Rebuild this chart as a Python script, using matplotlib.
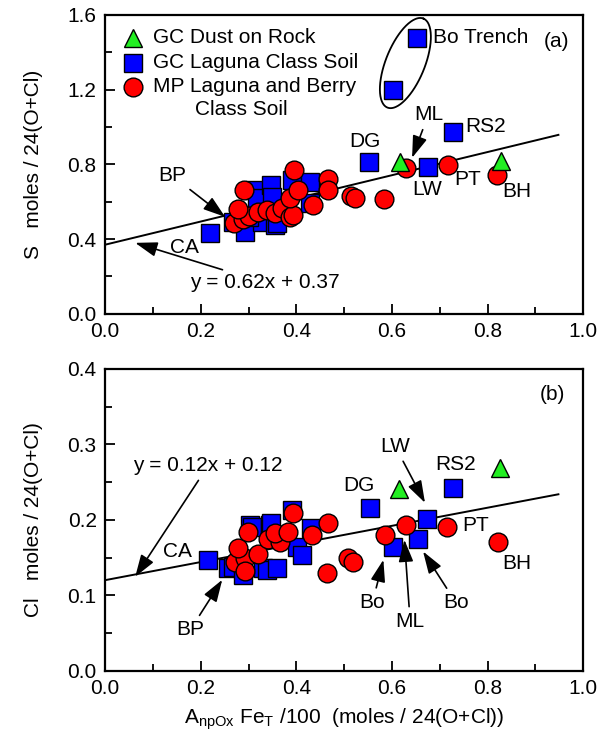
import numpy as np
import matplotlib
matplotlib.use("Agg")
import matplotlib.pyplot as plt
from matplotlib.ticker import MultipleLocator

plt.rcParams['font.family'] = ['Liberation Sans', 'DejaVu Sans']
plt.rcParams['mathtext.fontset'] = 'custom'
plt.rcParams['mathtext.rm'] = 'Liberation Sans'
plt.rcParams['mathtext.it'] = 'Liberation Sans'

# ---- (a) sulfur ----
s_dust_x = [0.617, 0.828]
s_dust_y = [0.813, 0.819]

s_lag_x = [0.220, 0.268, 0.293, 0.314, 0.318, 0.328, 0.347, 0.349, 0.356, 0.391,
           0.429, 0.429, 0.360, 0.300, 0.552, 0.676, 0.728, 0.603, 0.653]
s_lag_y = [0.433, 0.492, 0.439, 0.664, 0.621, 0.492, 0.690, 0.626, 0.476, 0.717,
           0.706, 0.594, 0.487, 0.520, 0.813, 0.787, 0.974, 1.199, 1.477]

s_mp_x = [0.270, 0.289, 0.301, 0.320, 0.339, 0.356, 0.370, 0.387, 0.393, 0.278,
          0.291, 0.387, 0.404, 0.435, 0.395, 0.467, 0.467, 0.515, 0.523, 0.584,
          0.630, 0.718, 0.820]
s_mp_y = [0.487, 0.508, 0.524, 0.546, 0.557, 0.540, 0.567, 0.519, 0.530, 0.562,
          0.664, 0.621, 0.664, 0.583, 0.771, 0.722, 0.664, 0.631, 0.621, 0.615,
          0.781, 0.797, 0.744]

s_fit = (0.62, 0.37)

# ---- (b) chlorine ----
cl_dust_x = [0.615, 0.826]
cl_dust_y = [0.241, 0.268]

cl_lag_x = [0.215, 0.257, 0.268, 0.289, 0.303, 0.308, 0.331, 0.339, 0.345, 0.347,
            0.360, 0.391, 0.402, 0.412, 0.431, 0.554, 0.602, 0.655, 0.673, 0.728]
cl_lag_y = [0.147, 0.136, 0.138, 0.127, 0.193, 0.191, 0.136, 0.134, 0.193, 0.196,
            0.136, 0.213, 0.164, 0.154, 0.189, 0.216, 0.164, 0.175, 0.201, 0.242]

cl_mp_x = [0.272, 0.293, 0.320, 0.278, 0.341, 0.366, 0.299, 0.356, 0.383, 0.433,
           0.393, 0.467, 0.293, 0.464, 0.508, 0.519, 0.586, 0.630, 0.715, 0.822]
cl_mp_y = [0.144, 0.150, 0.155, 0.163, 0.174, 0.170, 0.184, 0.183, 0.184, 0.180,
           0.209, 0.196, 0.132, 0.130, 0.150, 0.144, 0.180, 0.193, 0.191, 0.171]

cl_fit = (0.12, 0.12)

fit_x = np.array([0.0, 0.948])

GREEN = '#22ee22'
BLUE = '#0000ff'
RED = '#ff0000'
FS = 15
MS = 13.5

fig = plt.figure(figsize=(5.97, 7.42), dpi=100)
ax1 = fig.add_axes([0.176, 0.577, 0.801, 0.403])
ax2 = fig.add_axes([0.176, 0.096, 0.801, 0.407])


def style(ax, ymax, ymajor, yminor):
    ax.set_xlim(0, 1.0)
    ax.set_ylim(0, ymax)
    ax.xaxis.set_major_locator(MultipleLocator(0.2))
    ax.xaxis.set_minor_locator(MultipleLocator(0.1))
    ax.yaxis.set_major_locator(MultipleLocator(ymajor))
    ax.yaxis.set_minor_locator(MultipleLocator(yminor))
    ax.tick_params(which='both', direction='in', width=1.3, labelsize=FS,
                   top=False, right=False)
    ax.tick_params(which='major', length=7, pad=6)
    ax.tick_params(which='minor', length=5)
    for sp in ax.spines.values():
        sp.set_linewidth(1.6)
    ax.xaxis.set_major_formatter(plt.FuncFormatter(lambda v, p: f"{v:.1f}"))
    ax.yaxis.set_major_formatter(plt.FuncFormatter(lambda v, p: f"{v:.1f}"))


def draw(ax, fit, lag_x, lag_y, mp_x, mp_y, dust_x, dust_y):
    m, b = fit
    ax.plot(fit_x, m * fit_x + b, color='black', lw=1.4, zorder=1)
    ax.plot(lag_x, lag_y, 's', ms=MS, mfc=BLUE, mec='black', mew=1.0, ls='none', zorder=2)
    ax.plot(mp_x, mp_y, 'o', ms=MS, mfc=RED, mec='black', mew=1.0, ls='none', zorder=3)
    ax.plot(dust_x, dust_y, '^', ms=MS, mfc=GREEN, mec='black', mew=1.0, ls='none', zorder=4)


def note(ax, text, xy, xytext, ha='center', va='center'):
    ax.annotate(text, xy=xy, xytext=xytext, fontsize=FS, ha=ha, va=va,
                arrowprops=dict(arrowstyle='-|>,head_length=0.9,head_width=0.3',
                                color='black', lw=1.2, shrinkA=2, shrinkB=0),
                zorder=5)


style(ax1, 1.6, 0.4, 0.2)
style(ax2, 0.4, 0.1, 0.05)
draw(ax1, s_fit, s_lag_x, s_lag_y, s_mp_x, s_mp_y, s_dust_x, s_dust_y)
draw(ax2, cl_fit, cl_lag_x, cl_lag_y, cl_mp_x, cl_mp_y, cl_dust_x, cl_dust_y)

# legend drawn by hand in panel (a)
leg_x, leg_y = 0.059, [1.477, 1.343, 1.215]
leg = [('^', GREEN, 'GC Dust on Rock'), ('s', BLUE, 'GC Laguna Class Soil'),
       ('o', RED, 'MP Laguna and Berry')]
for (mk, c, lab), yy in zip(leg, leg_y):
    ax1.plot([leg_x], [yy], mk, ms=MS, mfc=c, mec='black', mew=1.0)
    ax1.text(0.100, yy, lab, fontsize=FS, va='center')
ax1.text(0.188, 1.092, 'Class Soil', fontsize=FS, va='center')

# ellipse round the Bo Trench pair, built in pixel units
cx, cy = 0.628, 1.342
a_px, b_px, th = 48.0, 19.5, np.radians(68)
sx = fig.get_figwidth() * fig.dpi * 0.801 / 1.0
sy = fig.get_figheight() * fig.dpi * 0.403 / 1.6
t = np.linspace(0, 2 * np.pi, 200)
ex = cx + (a_px * np.cos(t) * np.cos(th) - b_px * np.sin(t) * np.sin(th)) / sx
ey = cy + (a_px * np.cos(t) * np.sin(th) + b_px * np.sin(t) * np.cos(th)) / sy
ax1.plot(ex, ey, color='black', lw=1.3, zorder=1)
ax1.text(0.686, 1.477, 'Bo Trench', fontsize=FS, va='center')
ax1.text(0.945, 1.455, '(a)', fontsize=FS, ha='center', va='center')

# sample labels, panel (a)
ax1.text(0.544, 0.920, 'DG', fontsize=FS, ha='center', va='center')
ax1.text(0.753, 1.0, 'RS2', fontsize=FS, ha='left', va='center')
ax1.text(0.674, 0.663, 'LW', fontsize=FS, ha='center', va='center')
ax1.text(0.759, 0.717, 'PT', fontsize=FS, ha='center', va='center')
ax1.text(0.862, 0.653, 'BH', fontsize=FS, ha='center', va='center')
ax1.text(0.167, 0.353, 'CA', fontsize=FS, ha='center', va='center')
note(ax1, 'ML', (0.642, 0.835), (0.676, 1.065))
note(ax1, 'BP', (0.251, 0.519), (0.140, 0.740))
note(ax1, 'y = 0.62x + 0.37', (0.063, 0.380), (0.178, 0.166), ha='left')

# sample labels, panel (b)
ax2.text(0.935, 0.366, '(b)', fontsize=FS, ha='center', va='center')
ax2.text(0.531, 0.246, 'DG', fontsize=FS, ha='center', va='center')
ax2.text(0.732, 0.273, 'RS2', fontsize=FS, ha='center', va='center')
ax2.text(0.774, 0.193, 'PT', fontsize=FS, ha='center', va='center')
ax2.text(0.862, 0.142, 'BH', fontsize=FS, ha='center', va='center')
ax2.text(0.151, 0.158, 'CA', fontsize=FS, ha='center', va='center')
note(ax2, 'LW', (0.669, 0.2225), (0.607, 0.297))
note(ax2, 'Bo', (0.665, 0.158), (0.734, 0.090))
note(ax2, 'Bo', (0.582, 0.147), (0.559, 0.090))
note(ax2, 'ML', (0.626, 0.1735), (0.638, 0.065))
note(ax2, 'BP', (0.245, 0.1205), (0.178, 0.054))
note(ax2, 'y = 0.12x + 0.12', (0.063, 0.1245), (0.059, 0.2715), ha='left')

ax1.set_ylabel('S   moles / 24(O+Cl)', fontsize=FS)
ax2.set_ylabel('Cl   moles / 24(O+Cl)', fontsize=FS)
ax1.yaxis.set_label_coords(-0.13, 0.5)
ax2.yaxis.set_label_coords(-0.13, 0.5)
ax2.set_xlabel(r'A$_{\mathrm{npOx}}$ Fe$_{\mathrm{T}}$ /100  (moles / 24(O+Cl))',
               fontsize=FS, labelpad=6)

fig.savefig('out.png', dpi=100)
